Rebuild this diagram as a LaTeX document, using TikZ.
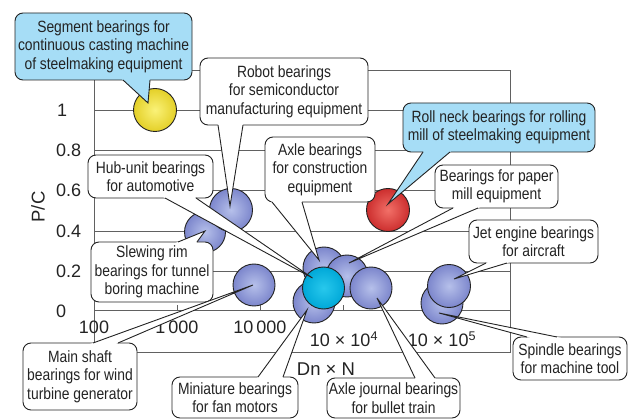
\documentclass[tikz,border=0pt]{standalone}
\usepackage{fontspec}
\setmainfont{Liberation Sans}[FakeStretch=0.85]
\newfontfamily\plainsans{Liberation Sans}
\usetikzlibrary{calc}
\definecolor{cblue}{RGB}{166,221,246}
\definecolor{inkc}{RGB}{35,35,35}
\definecolor{bubin}{RGB}{182,192,234}
\definecolor{bubout}{RGB}{124,134,204}
\definecolor{cyin}{RGB}{40,200,236}
\definecolor{cyout}{RGB}{0,168,216}
\definecolor{yein}{RGB}{250,242,120}
\definecolor{yeout}{RGB}{228,208,40}
\definecolor{rein}{RGB}{242,112,104}
\definecolor{reout}{RGB}{204,46,46}
\newcommand\mywedge[6]{%
  \path ($(#2.#3)+(#4,0)$) coordinate (wa) ($(#2.#3)+(#5,0)$) coordinate (wb);
  \fill[#1] ($(wa)!-4pt!(#6)$) -- (#6) -- ($(wb)!-4pt!(#6)$) -- cycle;
  \draw[wline] (wa) -- (#6) -- (wb);
}
\begin{document}
\begin{tikzpicture}[x=1pt,y=-1pt,
  cbox/.style={draw=inkc, line width=0.9pt, rounded corners=8pt, fill=white,
    align=center, font=\fontsize{16.3}{18.5}\selectfont, text=inkc,
    inner sep=0pt, outer sep=0pt},
  bbox/.style={cbox, fill=cblue},
  wline/.style={draw=inkc, line width=0.9pt, line join=miter},
  gridline/.style={draw=black!62, line width=0.8pt},
  bub/.style={circle, draw=inkc, line width=0.9pt, minimum size=43pt, inner sep=0pt},
  bblue/.style={bub, inner color=bubin, outer color=bubout},
  tick/.style={font=\plainsans\fontsize{18}{18}\selectfont, text=inkc, inner sep=0pt},
]
\useasboundingbox (0,0) rectangle (631,419);

% frame and grid
\draw[gridline] (94,70) rectangle (510,352);
\foreach \yy in {110,150,190,231,271,310} \draw[gridline] (94,\yy) -- (510,\yy);
\foreach \xx in {177,260,343,426} \draw[gridline] (\xx,310) -- (\xx,305);

% axis labels
\node[tick, anchor=west] (y1) at (57,110) {1};
\node[tick, anchor=west] (y08) at (56,150) {0.8};
\node[tick, anchor=west] (y06) at (56,190) {0.6};
\node[tick, anchor=west] (y04) at (56,231) {0.4};
\node[tick, anchor=west] (y02) at (56,271) {0.2};
\node[tick, anchor=west] (y0) at (56,311) {0};
\node[tick] (x2) at (94,327) {100};
\node[tick] (x3) at (177,327) {1\,000};
\node[tick] (x4) at (260,327) {10\,000};
\node[tick] (x5) at (344,339) {10 × 10\textsuperscript{4}};
\node[tick] (x6) at (442,339) {10 × 10\textsuperscript{5}};
\node[tick, font=\plainsans\fontsize{18.5}{18}\selectfont] (xl) at (326,369) {Dn × N};
\node[tick, font=\plainsans\fontsize{18.5}{18}\selectfont, rotate=90] (yl) at (38,207) {P/C};

% bubbles
\node[bub, minimum size=41pt, inner color=bubin, outer color=bubout] (bsle) at (205,232) {};
\node[bblue] (brob) at (231,210) {};
\node[bblue, minimum size=42pt] (bmai) at (254,285) {};
\node[bblue, minimum size=42pt] (baxc) at (324,268) {};
\node[bblue, minimum size=42pt] (bpap) at (347,276) {};
\node[bblue, minimum size=42pt] (bmin) at (314,302) {};
\node[bub, minimum size=42pt, inner color=cyin, outer color=cyout] (bhub) at (323.5,288) {};
\node[bblue, minimum size=42pt] (bajb) at (371,288) {};
\node[bblue, minimum size=42pt] (bspi) at (442,303) {};
\node[bblue] (bjet) at (449,286) {};
\node[bub, inner color=yein, outer color=yeout] (byel) at (155,110) {};
\node[bub, inner color=rein, outer color=reout] (bred) at (388,210) {};

% tips
\coordinate (tseg) at ($(byel)+(-7,-7)$);
\coordinate (trob) at ($(brob)+(-1,-4)$);
\coordinate (thub) at ($(bhub)+(-11,-10)$);
\coordinate (taxc) at ($(baxc)+(-5,-8)$);
\coordinate (troll) at ($(bred)+(0,-6)$);
\coordinate (tpap) at ($(bpap)+(2,-13)$);
\coordinate (tjet) at ($(bjet)+(5,-7)$);
\coordinate (tspi) at ($(bspi)+(-3,10)$);
\coordinate (tsle) at ($(bsle)+(0,-1)$);
\coordinate (tmai) at ($(bmai)+(-1,0)$);
\coordinate (tmin) at ($(bmin)+(-7,8)$);
\coordinate (tajb) at ($(bajb)+(6,10)$);

% callouts
\node[bbox, minimum width=177pt, minimum height=67pt] (cseg) at (103.5,46.5)
  {Segment bearings for\\continuous casting machine\\of steelmaking equipment};
\mywedge{cblue}{cseg}{south west}{108}{135}{tseg}

\node[cbox, minimum width=168pt, minimum height=67pt] (crob) at (284,91.5)
  {Robot bearings\\for semiconductor\\manufacturing equipment};
\mywedge{white}{crob}{south west}{18}{43}{trob}

\node[cbox, minimum width=125pt, minimum height=43pt] (chub) at (150.5,176.5)
  {Hub-unit bearings\\for automotive};
\mywedge{white}{chub}{south west}{77}{108}{thub}

\node[cbox, minimum width=110pt, minimum height=65pt] (caxc) at (320,169.5)
  {Axle bearings\\for construction\\equipment};
\mywedge{white}{caxc}{south west}{7}{37}{taxc}

\node[bbox, minimum width=192pt, minimum height=49pt] (croll) at (499,127.5)
  {Roll neck bearings for rolling\\mill of steelmaking equipment};
\mywedge{cblue}{croll}{south west}{20}{47}{troll}

\node[cbox, minimum width=123pt, minimum height=43pt] (cpap) at (496.5,186.5)
  {Bearings for paper\\mill equipment};
\mywedge{white}{cpap}{south west}{18}{43}{tpap}

\node[cbox, minimum width=129pt, minimum height=43pt] (cjet) at (533.5,241.5)
  {Jet engine bearings\\for aircraft};
\mywedge{white}{cjet}{south west}{17}{38}{tjet}

\node[cbox, minimum width=114pt, minimum height=43pt] (cspi) at (570,358.5)
  {Spindle bearings\\for machine tool};
\mywedge{white}{cspi}{north west}{14}{44}{tspi}

\node[cbox, minimum width=122pt, minimum height=60pt] (csle) at (152,272)
  {Slewing rim\\bearings for tunnel\\boring machine};
\mywedge{white}{csle}{north west}{87}{106}{tsle}

\node[cbox, minimum width=114pt, minimum height=67pt] (cmai) at (80,376.5)
  {Main shaft\\bearings for wind\\turbine generator};
\mywedge{white}{cmai}{north west}{70}{95}{tmai}

\node[cbox, minimum width=126pt, minimum height=41pt] (cmin) at (235,397.5)
  {Miniature bearings\\for fan motors};
\mywedge{white}{cmin}{north west}{86}{111}{tmin}

\node[cbox, minimum width=133pt, minimum height=40pt] (cajb) at (393.5,398)
  {Axle journal bearings\\for bullet train};
\mywedge{white}{cajb}{north west}{88}{108}{tajb}
\end{tikzpicture}
\end{document}
